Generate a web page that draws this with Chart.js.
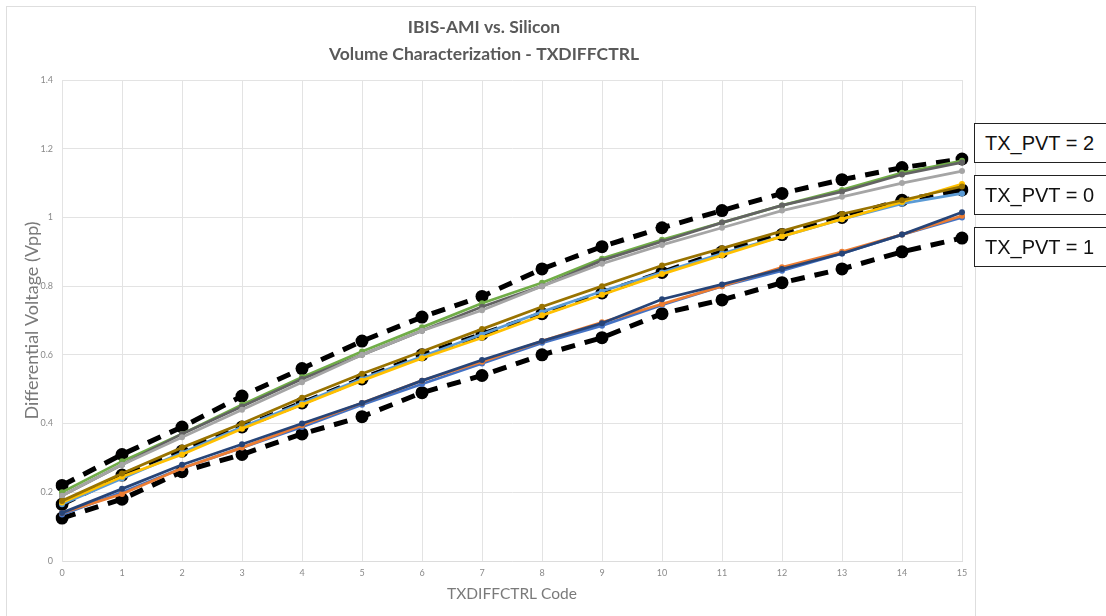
<!DOCTYPE html>
<html>
<head>
<meta charset="utf-8">
<script src="https://cdn.jsdelivr.net/npm/chart.js@4.4.1/dist/chart.umd.min.js"></script>
<style>
  html, body { margin: 0; padding: 0; background: #fff; overflow: hidden; }
  body { width: 1106px; height: 616px; position: relative; }
  #frame {
    position: absolute; left: 6px; top: 6px; width: 968px; height: 620px;
    border: 1px solid #dedede;
  }
  #wrap { position: absolute; left: 6px; top: 6px; width: 970px; height: 610px; }
  .pvt {
    position: absolute; left: 974px; width: 150px; height: 38px;
    border: 1px solid #222; background: #fff;
    font-family: "Liberation Sans", Arial, sans-serif; font-size: 20px;
    line-height: 38px; padding-left: 10px; color: #111;
  }
</style>
</head>
<body>
<div id="frame"></div>
<div id="wrap"><canvas id="voltChart" width="970" height="610"></canvas></div>
<div class="pvt" style="top:123px">TX_PVT = 2</div>
<div class="pvt" style="top:175px">TX_PVT = 0</div>
<div class="pvt" style="top:227px">TX_PVT = 1</div>

<script>
// codes TXDIFFCTRL
const codes = ['0','1','2','3','4','5','6','7','8','9','10','11','12','13','14','15'];

// silicon (pointillés noirs)
const siliconPvt2 = [0.22, 0.31, 0.39, 0.48, 0.56, 0.64, 0.71, 0.77, 0.85, 0.915, 0.97, 1.02, 1.07, 1.11, 1.145, 1.17];
const siliconPvt0 = [0.165, 0.25, 0.32, 0.39, 0.46, 0.53, 0.60, 0.66, 0.72, 0.78, 0.84, 0.90, 0.95, 1.00, 1.05, 1.08];
const siliconPvt1 = [0.125, 0.18, 0.26, 0.31, 0.37, 0.42, 0.49, 0.54, 0.60, 0.65, 0.72, 0.76, 0.81, 0.85, 0.90, 0.94];

// IBIS-AMI - TX_PVT = 2
const amiGreen = [0.20, 0.29, 0.37, 0.455, 0.535, 0.61, 0.68, 0.75, 0.81, 0.88, 0.935, 0.985, 1.035, 1.08, 1.13, 1.165];
const amiDarkGray = [0.19, 0.28, 0.37, 0.45, 0.53, 0.60, 0.67, 0.74, 0.80, 0.875, 0.93, 0.985, 1.035, 1.075, 1.125, 1.16];
const amiLightGray = [0.19, 0.28, 0.36, 0.44, 0.52, 0.60, 0.67, 0.73, 0.80, 0.865, 0.92, 0.97, 1.02, 1.06, 1.10, 1.135];

// IBIS-AMI - TX_PVT = 0
const amiDarkGold = [0.175, 0.255, 0.33, 0.40, 0.475, 0.545, 0.61, 0.675, 0.74, 0.80, 0.86, 0.91, 0.96, 1.01, 1.05, 1.09];
const amiYellow = [0.17, 0.245, 0.31, 0.385, 0.455, 0.525, 0.59, 0.65, 0.715, 0.775, 0.835, 0.89, 0.945, 0.995, 1.045, 1.097];
const amiLightBlue = [0.165, 0.24, 0.315, 0.39, 0.46, 0.53, 0.595, 0.66, 0.725, 0.785, 0.84, 0.895, 0.945, 0.995, 1.04, 1.07];

// IBIS-AMI - TX_PVT = 1
const amiDarkBlue = [0.14, 0.21, 0.28, 0.34, 0.40, 0.46, 0.525, 0.585, 0.64, 0.692, 0.762, 0.805, 0.85, 0.895, 0.95, 1.015];
const amiOrange = [0.14, 0.195, 0.27, 0.33, 0.395, 0.46, 0.525, 0.58, 0.64, 0.695, 0.748, 0.80, 0.855, 0.90, 0.95, 1.005];
const amiBlue = [0.135, 0.20, 0.27, 0.33, 0.39, 0.455, 0.515, 0.575, 0.635, 0.685, 0.745, 0.80, 0.845, 0.895, 0.95, 1.00];

const yTicks = [0, 0.2, 0.4, 0.6, 0.8, 1, 1.2, 1.4];
const yTickLabels = ['0', '0.2', '0.4', '0.6', '0.8', '1', '1.2', '1.4'];

document.addEventListener('DOMContentLoaded', function() {
    creerGraphique();
});

function serieAmi(label, data, color) {
    return {
        label: label,
        data: data,
        borderColor: color,
        backgroundColor: color,
        borderWidth: 2.75,
        pointRadius: 3,
        pointBorderWidth: 0,
        tension: 0
    };
}

function serieSilicon(label, data) {
    return {
        label: label,
        data: data,
        borderColor: '#000',
        backgroundColor: '#000',
        borderWidth: 5,
        borderDash: [14, 10],
        pointRadius: 6.5,
        pointBorderWidth: 0,
        tension: 0
    };
}

function creerGraphique() {
    const ctx = document.getElementById('voltChart').getContext('2d');
    const tickColor = '#8a8a8a';

    new Chart(ctx, {
        type: 'line',
        data: {
            labels: codes,
            datasets: [
                serieAmi('AMI PVT1 a', amiDarkBlue, '#264478'),
                serieAmi('AMI PVT1 b', amiOrange, '#ED7D31'),
                serieAmi('AMI PVT1 c', amiBlue, '#4472C4'),
                serieAmi('AMI PVT0 a', amiDarkGold, '#997300'),
                serieAmi('AMI PVT0 b', amiYellow, '#FFC000'),
                serieAmi('AMI PVT0 c', amiLightBlue, '#5B9BD5'),
                serieAmi('AMI PVT2 a', amiLightGray, '#A5A5A5'),
                serieAmi('AMI PVT2 b', amiDarkGray, '#636363'),
                serieAmi('AMI PVT2 c', amiGreen, '#70AD47'),
                serieSilicon('Silicon PVT2', siliconPvt2),
                serieSilicon('Silicon PVT0', siliconPvt0),
                serieSilicon('Silicon PVT1', siliconPvt1)
            ]
        },
        options: {
            responsive: false,
            animation: false,
            layout: { padding: { left: 0, right: 14, top: 0, bottom: 0 } },
            scales: {
                x: {
                    offset: false,
                    grid: { color: '#e3e3e3', lineWidth: 1, drawTicks: false },
                    border: { color: '#dcdcdc' },
                    ticks: { color: tickColor, font: { family: 'Lato', size: 9 }, padding: 7, maxRotation: 0 },
                    title: {
                        display: true,
                        text: 'TXDIFFCTRL Code',
                        color: '#7a7a7a',
                        font: { family: 'Lato', size: 15.5 },
                        padding: { top: 0, bottom: 12.5 }
                    },
                    afterFit: function(scale) { scale.height = 55; }
                },
                y: {
                    min: 0,
                    max: 1.4,
                    afterBuildTicks: function(scale) {
                        scale.ticks = yTicks.map(v => ({ value: v }));
                    },
                    grid: { color: '#e3e3e3', lineWidth: 1, drawTicks: false },
                    border: { color: '#e3e3e3' },
                    ticks: {
                        color: tickColor,
                        font: { family: 'Lato', size: 9 },
                        padding: 9,
                        callback: function(value, index) { return yTickLabels[index]; }
                    },
                    title: {
                        display: true,
                        text: 'Differential Voltage (Vpp)',
                        color: '#7a7a7a',
                        font: { family: 'Lato', size: 18 },
                        padding: { top: 15, bottom: 0 }
                    },
                    afterFit: function(scale) { scale.width = 56; }
                }
            },
            plugins: {
                legend: { display: false },
                tooltip: { enabled: false },
                title: {
                    display: true,
                    text: ['IBIS-AMI vs. Silicon', 'Volume Characterization - TXDIFFCTRL'],
                    color: '#595959',
                    font: { family: 'Lato', size: 17.5, weight: 'bold', lineHeight: '27px' },
                    padding: { top: 7.5, bottom: 12.5 }
                }
            }
        }
    });
}
</script>
</body>
</html>
